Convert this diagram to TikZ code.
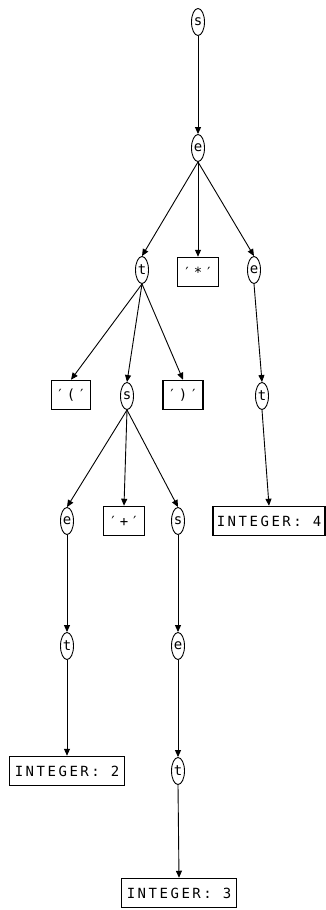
\documentclass[tikz,border=0pt]{standalone}
\usepackage{fontspec}
\usetikzlibrary{shapes.geometric,arrows.meta}
\newfontfamily\treefont[LetterSpace=18]{DejaVu Sans Mono}
\begin{document}
\begin{tikzpicture}[x=1pt,y=-1pt,
  nt/.style={ellipse,draw,line width=0.9pt,minimum width=13pt,minimum height=27pt,inner sep=0pt,font=\treefont\fontsize{14}{14}\selectfont},
  tok/.style={rectangle,draw,line width=1.5pt,minimum height=29pt,inner xsep=3pt,inner ysep=0pt,font=\treefont\fontsize{14}{14}\selectfont},
  edge/.style={line width=0.9pt,-{Triangle[length=7pt,width=6pt]}}]
\useasboundingbox (0,0) rectangle (326,910);
% nonterminals
\node[nt] (s0) at (198,22) {s};
\node[nt] (e0) at (198,148) {e};
\node[nt] (t0) at (142,270) {t};
\node[nt] (e1) at (254,270) {e};
\node[nt] (s1) at (127,396) {s};
\node[nt] (t1) at (262,396) {t};
\node[nt] (e2) at (67,521) {e};
\node[nt] (s2) at (178,521) {s};
\node[nt] (t2) at (67,646) {t};
\node[nt] (e3) at (178,646) {e};
\node[nt] (t3) at (178,771) {t};
% tokens
\node[tok,minimum width=41pt] (star) at (198,272) {′*′};
\node[tok,minimum width=39pt] (lp) at (71,395) {′(′};
\node[tok,minimum width=40pt] (rp) at (183,395) {′)′};
\node[tok,minimum width=41pt] (plus) at (124,521) {′+′};
\node[tok,minimum width=112pt] (i4) at (269,521) {INTEGER: 4};
\node[tok,minimum width=115pt] (i2) at (67,771) {INTEGER: 2};
\node[tok,minimum width=115pt] (i3) at (179,893) {INTEGER: 3};
% edges
\draw[edge] (s0.south) -- (e0.north);
\draw[edge] (e0.south) -- (t0.north);
\draw[edge] (e0.south) -- (star.north);
\draw[edge] (e0.south) -- (e1.north);
\draw[edge] (t0.south) -- (lp.north);
\draw[edge] (t0.south) -- (s1.north);
\draw[edge] (t0.south) -- (rp.north);
\draw[edge] (e1.south) -- (t1.north);
\draw[edge] (t1.south) -- (i4.north);
\draw[edge] (s1.south) -- (e2.north);
\draw[edge] (s1.south) -- (plus.north);
\draw[edge] (s1.south) -- (s2.north);
\draw[edge] (e2.south) -- (t2.north);
\draw[edge] (t2.south) -- (i2.north);
\draw[edge] (s2.south) -- (e3.north);
\draw[edge] (e3.south) -- (t3.north);
\draw[edge] (t3.south) -- (i3.north);
\end{tikzpicture}
\end{document}
